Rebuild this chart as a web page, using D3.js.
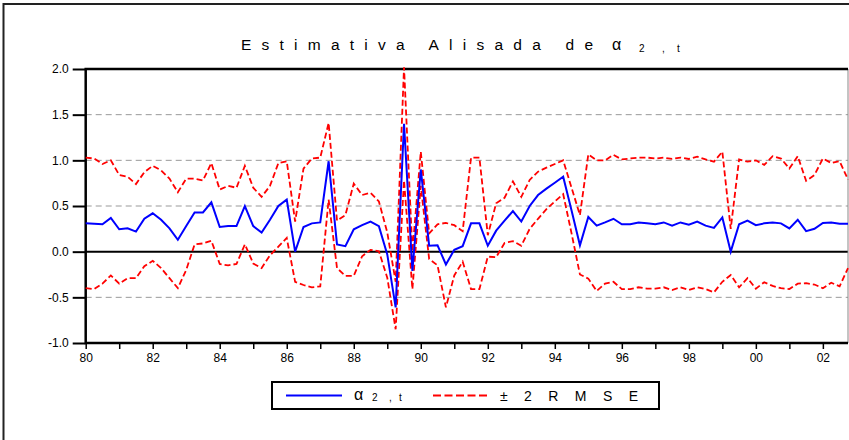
<!DOCTYPE html>
<html><head><meta charset="utf-8">
<script src="https://cdn.jsdelivr.net/npm/d3@7/dist/d3.min.js"></script>
<style>
body{margin:0;background:#fff}
svg{display:block}
text{font-family:"Liberation Sans",Arial,sans-serif;fill:#000}
</style>
</head><body>
<svg id="c" width="849" height="440"></svg>
<script>
// ---- data (quarterly, 1980Q1 .. 2002Q4) ----
const startYear = 1980;
const periodsPerYear = 4;
const alpha = [
 0.31,0.305,0.30,0.37, 0.245,0.255,0.22,0.36, 0.42,0.35,0.255,0.13, 0.28,0.43,0.43,0.54,
 0.27,0.28,0.28,0.50, 0.28,0.21,0.35,0.50, 0.57,0.0,0.27,0.31, 0.32,0.99,0.08,0.06,
 0.245,0.29,0.33,0.28, -0.03,-0.61,1.40,-0.21, 0.90,0.065,0.07,-0.14, 0.02,0.06,0.31,0.31,
 0.065,0.23,0.34,0.445, 0.33,0.50,0.62,0.69, 0.755,0.82,0.45,0.07, 0.38,0.285,0.32,0.36,
 0.30,0.30,0.32,0.31, 0.30,0.32,0.285,0.32, 0.295,0.33,0.285,0.26, 0.375,0.0,0.30,0.34,
 0.29,0.31,0.32,0.31, 0.255,0.35,0.225,0.25, 0.315,0.32,0.305,0.305
];
const upper = [
 1.03,1.02,0.96,1.00, 0.84,0.82,0.74,0.87, 0.94,0.89,0.80,0.65, 0.80,0.80,0.78,0.97,
 0.68,0.72,0.70,0.94, 0.70,0.60,0.72,0.97, 0.99,0.33,0.91,1.02, 1.03,1.41,0.34,0.40,
 0.745,0.62,0.645,0.55, 0.21,-0.33,2.02,0.0, 1.095,0.20,0.30,0.315, 0.29,0.225,1.03,1.03,
 0.18,0.53,0.59,0.77, 0.60,0.785,0.876,0.92, 0.96,1.00,0.70,0.40, 1.065,1.00,1.00,1.06,
 1.01,1.02,1.03,1.03, 1.02,1.03,1.015,1.03, 1.015,1.04,1.01,0.985, 1.095,0.25,1.01,0.985,
 1.00,0.95,1.045,1.02, 0.91,1.045,0.775,0.84, 1.02,0.97,0.99,0.79
];
const lower = [
 -0.40,-0.41,-0.35,-0.26, -0.35,-0.29,-0.29,-0.16, -0.10,-0.18,-0.29,-0.40, -0.20,0.08,0.09,0.12,
 -0.135,-0.15,-0.135,0.08, -0.13,-0.18,-0.04,0.055, 0.15,-0.33,-0.365,-0.39, -0.38,0.57,-0.18,-0.265,
 -0.265,-0.05,0.02,0.005, -0.285,-0.85,0.78,-0.41, 0.72,-0.08,-0.15,-0.61, -0.26,-0.11,-0.41,-0.41,
 -0.055,-0.06,0.095,0.115, 0.065,0.25,0.36,0.465, 0.55,0.63,0.20,-0.25, -0.295,-0.43,-0.35,-0.33,
 -0.41,-0.41,-0.39,-0.405, -0.405,-0.39,-0.42,-0.39, -0.42,-0.39,-0.41,-0.445, -0.33,-0.255,-0.39,-0.29,
 -0.405,-0.335,-0.375,-0.40, -0.41,-0.35,-0.345,-0.36, -0.40,-0.34,-0.38,-0.18
];
const yTicks = [-1.0,-0.5,0.0,0.5,1.0,1.5,2.0];
const gridValues = [-0.5,0.5,1.0,1.5];
const xTickYears = [1980,1981,1982,1983,1984,1985,1986,1987,1988,1989,1990,1991,1992,1993,1994,1995,1996,1997,1998,1999,2000,2001,2002];
const xTickLabels = {1980:"80",1982:"82",1984:"84",1986:"86",1988:"88",1990:"90",1992:"92",1994:"94",1996:"96",1998:"98",2000:"00",2002:"02"};
const titleText = "Estimativa Alisada de";
const legendLabels = ["α", "2", ",", "t", "± 2 R M S E"];

// ---- layout ----
const svg = d3.select("#c");
const L = 85.7, R = 848, T = 69, B = 343;
const tOf = i => startYear + i / periodsPerYear;
const x = d3.scaleLinear().domain([startYear, tOf(alpha.length - 1)]).range([L, R]);
const y = d3.scaleLinear().domain([-1, 2]).range([B, T]);

// outer frame
svg.append("rect").attr("x",3.5).attr("y",4).attr("width",900).attr("height",900)
  .attr("fill","none").attr("stroke","#222").attr("stroke-width",2);

// title
svg.append("text").attr("x",241).attr("y",50).attr("font-size",15.5)
  .attr("textLength",352).attr("lengthAdjust","spacing").text(titleText);
svg.append("text").attr("x",612).attr("y",50).attr("font-size",16).text(legendLabels[0]);
svg.append("text").attr("x",639).attr("y",52).attr("font-size",10).text(legendLabels[1]);
svg.append("text").attr("x",662).attr("y",52).attr("font-size",10).text(legendLabels[2]);
svg.append("text").attr("x",677).attr("y",52).attr("font-size",10).text(legendLabels[3]);

// grid
svg.append("g").selectAll("line").data(gridValues).join("line")
  .attr("x1",L).attr("x2",R).attr("y1",d=>y(d)).attr("y2",d=>y(d))
  .attr("stroke","#999").attr("stroke-width",1).attr("stroke-dasharray","6,4");
svg.append("line").attr("x1",L).attr("x2",R).attr("y1",y(0)).attr("y2",y(0))
  .attr("stroke","#000").attr("stroke-width",2);

// axes
const yAxis = svg.append("g").attr("transform",`translate(${L},0)`)
  .call(d3.axisLeft(y).tickValues(yTicks).tickSize(13).tickPadding(4).tickFormat(d=>d.toFixed(1)));
yAxis.select(".domain").remove();
yAxis.selectAll(".tick line").attr("stroke","#000").attr("stroke-width",2);
yAxis.selectAll("text").attr("font-size",12).attr("font-family","Liberation Sans, Arial, sans-serif");

const xAxis = svg.append("g").attr("transform",`translate(0,${B})`)
  .call(d3.axisBottom(x).tickValues(xTickYears).tickSize(6).tickPadding(4).tickFormat(d=>xTickLabels[d]||""));
xAxis.select(".domain").remove();
xAxis.selectAll(".tick line").attr("stroke","#000").attr("stroke-width",1.5);
xAxis.selectAll("text").attr("font-size",12).attr("font-family","Liberation Sans, Arial, sans-serif");

// plot frame
svg.append("line").attr("x1",R).attr("x2",R).attr("y1",T).attr("y2",B).attr("stroke","#888").attr("stroke-width",1);
svg.append("path").attr("d",`M${R},${T}H${L}V${B}H${R}`).attr("fill","none").attr("stroke","#000").attr("stroke-width",2.5);

// series
const line = d3.line().x((d,i)=>x(tOf(i))).y(d=>y(d));
svg.append("path").datum(upper).attr("d",line).attr("fill","none")
  .attr("stroke","#ff0000").attr("stroke-width",1.8).attr("stroke-dasharray","6,3");
svg.append("path").datum(lower).attr("d",line).attr("fill","none")
  .attr("stroke","#ff0000").attr("stroke-width",1.8).attr("stroke-dasharray","6,3");
svg.append("path").datum(alpha).attr("d",line).attr("fill","none")
  .attr("stroke","#0000ff").attr("stroke-width",2);

// legend
const lg = svg.append("g");
lg.append("rect").attr("x",272).attr("y",382).attr("width",387).attr("height",27)
  .attr("fill","#fff").attr("stroke","#000").attr("stroke-width",2);
lg.append("line").attr("x1",286).attr("x2",342).attr("y1",395.5).attr("y2",395.5)
  .attr("stroke","#0000ff").attr("stroke-width",2);
lg.append("text").attr("x",354).attr("y",400).attr("font-size",16).text(legendLabels[0]);
lg.append("text").attr("x",372).attr("y",401).attr("font-size",10).text(legendLabels[1]);
lg.append("text").attr("x",389).attr("y",401).attr("font-size",10).text(legendLabels[2]);
lg.append("text").attr("x",399).attr("y",401).attr("font-size",10).text(legendLabels[3]);
lg.append("line").attr("x1",433).attr("x2",490).attr("y1",395.5).attr("y2",395.5)
  .attr("stroke","#ff0000").attr("stroke-width",2).attr("stroke-dasharray","8,3.5");
lg.append("text").attr("x",500).attr("y",400.5).attr("font-size",14)
  .attr("textLength",138).attr("lengthAdjust","spacing").text(legendLabels[4]);
</script>
</body></html>
